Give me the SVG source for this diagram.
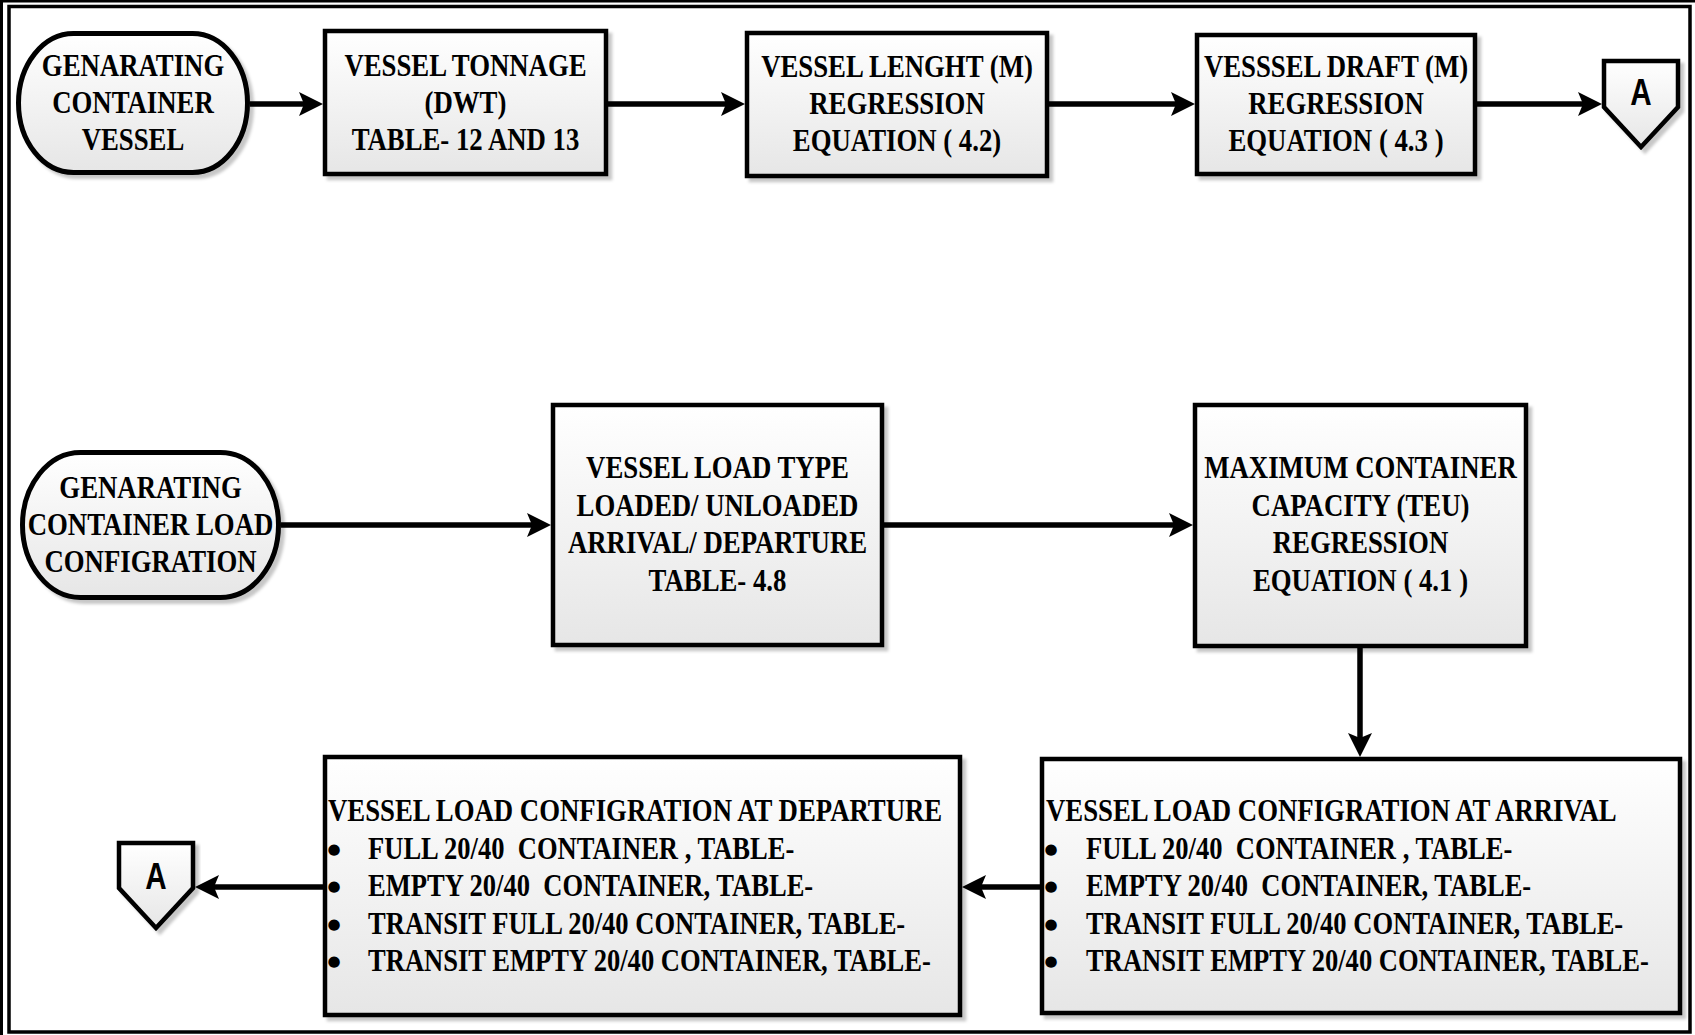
<svg xmlns="http://www.w3.org/2000/svg" width="1695" height="1035" viewBox="0 0 1695 1035">
  <defs>
    <linearGradient id="fillGrad" x1="0" y1="0" x2="0" y2="1">
      <stop offset="0" stop-color="#ffffff"/>
      <stop offset="1" stop-color="#e6e6e6"/>
    </linearGradient>
    <filter id="shadow" x="-5%" y="-5%" width="115%" height="115%">
      <feDropShadow dx="4" dy="4" stdDeviation="1.6" flood-color="#000000" flood-opacity="0.22"/>
    </filter>
    <marker id="arrow" markerUnits="userSpaceOnUse" markerWidth="26" markerHeight="26" viewBox="0 -13 24 26" refX="5" refY="0" orient="auto">
      <path d="M0,-12 L24,0 L0,12 L5,0 Z" fill="#000"/>
    </marker>
    <style>
      .shape { fill: url(#fillGrad); stroke: #000; stroke-width: 4.5; filter: url(#shadow); }
      .term { stroke-width: 5; }
      .lbl { font-family: "Liberation Serif", "Times New Roman", serif; font-weight: bold; font-size: 31.5px; fill: #000; }
      .mid { text-anchor: middle; }
      .bul { font-family: "DejaVu Sans", sans-serif; font-size: 15px; fill: #000; text-anchor: middle; }
      .conn { fill: none; stroke: #000; stroke-width: 5.5; marker-end: url(#arrow); }
      .letter { font-family: "Liberation Sans", Arial, sans-serif; font-weight: bold; font-size: 37px; fill: #000; text-anchor: middle; }
      .frame { fill: none; stroke: #000; }
    </style>
  </defs>

  <rect width="1695" height="1035" fill="#ffffff"/>

  <!-- double page frame -->
  <rect class="frame" x="1.5" y="1" width="1720" height="1060" stroke-width="3"/>
  <rect class="frame" x="9" y="6.5" width="1681" height="1025.5" stroke-width="3.5"/>

  <!-- connectors -->
  <g id="connectors">
    <path class="conn" d="M250,104 H304"/>
    <path class="conn" d="M608,104 H726"/>
    <path class="conn" d="M1049,104 H1176"/>
    <path class="conn" d="M1477,104 H1583"/>
    <path class="conn" d="M281,525 H532"/>
    <path class="conn" d="M884,525 H1174"/>
    <path class="conn" d="M1360,648 V738"/>
    <path class="conn" d="M1040,887 H981"/>
    <path class="conn" d="M323,887 H214"/>
  </g>

  <!-- start: generating container vessel -->
  <g id="start-vessel">
    <rect class="shape term" x="18.5" y="33.5" width="229" height="139" rx="55" ry="69.5"/>
    <g class="lbl mid" transform="translate(133,0) scale(0.85,1)">
      <text x="0" y="76">GENARATING</text>
      <text x="0" y="113">CONTAINER</text>
      <text x="0" y="150">VESSEL</text>
    </g>
  </g>

  <g id="vessel-tonnage">
    <rect class="shape" x="325" y="31" width="281" height="143"/>
    <g class="lbl mid" transform="translate(465.5,0) scale(0.85,1)">
      <text x="0" y="76">VESSEL TONNAGE</text>
      <text x="0" y="113">(DWT)</text>
      <text x="0" y="150">TABLE- 12 AND 13</text>
    </g>
  </g>

  <g id="vessel-length">
    <rect class="shape" x="747" y="33" width="300" height="143"/>
    <g class="lbl mid" transform="translate(897,0) scale(0.85,1)">
      <text x="0" y="77">VESSEL LENGHT (M)</text>
      <text x="0" y="114">REGRESSION</text>
      <text x="0" y="151" xml:space="preserve">EQUATION ( 4.2)</text>
    </g>
  </g>

  <g id="vessel-draft">
    <rect class="shape" x="1197" y="35" width="278" height="139"/>
    <g class="lbl mid" transform="translate(1336,0) scale(0.85,1)">
      <text x="0" y="77">VESSSEL DRAFT (M)</text>
      <text x="0" y="114">REGRESSION</text>
      <text x="0" y="151" xml:space="preserve">EQUATION ( 4.3 )</text>
    </g>
  </g>

  <!-- off-page reference A (outgoing) -->
  <g id="ref-a-out">
    <path class="shape" d="M1604,61 H1678 V107 L1641,147 L1604,107 Z"/>
    <text class="letter" transform="translate(1641,105) scale(0.8,1)">A</text>
  </g>

  <!-- start: generating container load configuration -->
  <g id="start-load">
    <rect class="shape term" x="22.5" y="452.5" width="256" height="145" rx="58" ry="72.5"/>
    <g class="lbl mid" transform="translate(150.5,0) scale(0.85,1)">
      <text x="0" y="498">GENARATING</text>
      <text x="0" y="535">CONTAINER LOAD</text>
      <text x="0" y="572">CONFIGRATION</text>
    </g>
  </g>

  <g id="load-type">
    <rect class="shape" x="553" y="405" width="329" height="240"/>
    <g class="lbl mid" transform="translate(717.5,0) scale(0.85,1)">
      <text x="0" y="478">VESSEL LOAD TYPE</text>
      <text x="0" y="516">LOADED/ UNLOADED</text>
      <text x="0" y="553">ARRIVAL/ DEPARTURE</text>
      <text x="0" y="591">TABLE- 4.8</text>
    </g>
  </g>

  <g id="max-capacity">
    <rect class="shape" x="1195" y="405" width="331" height="241"/>
    <g class="lbl mid" transform="translate(1360.5,0) scale(0.85,1)">
      <text x="0" y="478">MAXIMUM CONTAINER</text>
      <text x="0" y="516">CAPACITY (TEU)</text>
      <text x="0" y="553">REGRESSION</text>
      <text x="0" y="591" xml:space="preserve">EQUATION ( 4.1 )</text>
    </g>
  </g>

  <g id="config-arrival">
    <rect class="shape" x="1042" y="759" width="638" height="254"/>
    <g class="lbl" transform="translate(1046,0) scale(0.85,1)">
      <text x="0" y="821">VESSEL LOAD CONFIGRATION AT ARRIVAL</text>
    </g>
    <g class="bul">
      <text x="1051" y="854">●</text>
      <text x="1051" y="891">●</text>
      <text x="1051" y="929">●</text>
      <text x="1051" y="966">●</text>
    </g>
    <g class="lbl" transform="translate(1086,0) scale(0.843,1)">
      <text x="0" y="859" xml:space="preserve">FULL 20/40  CONTAINER , TABLE-</text>
      <text x="0" y="896" xml:space="preserve">EMPTY 20/40  CONTAINER, TABLE-</text>
      <text x="0" y="934">TRANSIT FULL 20/40 CONTAINER, TABLE-</text>
      <text x="0" y="971">TRANSIT EMPTY 20/40 CONTAINER, TABLE-</text>
    </g>
  </g>

  <g id="config-departure">
    <rect class="shape" x="325" y="757" width="635" height="258"/>
    <g class="lbl" transform="translate(328,0) scale(0.85,1)">
      <text x="0" y="821">VESSEL LOAD CONFIGRATION AT DEPARTURE</text>
    </g>
    <g class="bul">
      <text x="334" y="854">●</text>
      <text x="334" y="891">●</text>
      <text x="334" y="929">●</text>
      <text x="334" y="966">●</text>
    </g>
    <g class="lbl" transform="translate(368,0) scale(0.843,1)">
      <text x="0" y="859" xml:space="preserve">FULL 20/40  CONTAINER , TABLE-</text>
      <text x="0" y="896" xml:space="preserve">EMPTY 20/40  CONTAINER, TABLE-</text>
      <text x="0" y="934">TRANSIT FULL 20/40 CONTAINER, TABLE-</text>
      <text x="0" y="971">TRANSIT EMPTY 20/40 CONTAINER, TABLE-</text>
    </g>
  </g>

  <!-- off-page reference A (incoming) -->
  <g id="ref-a-in">
    <path class="shape" d="M119,843 H193 V888 L156,928 L119,888 Z"/>
    <text class="letter" transform="translate(156,889) scale(0.8,1)">A</text>
  </g>
</svg>
